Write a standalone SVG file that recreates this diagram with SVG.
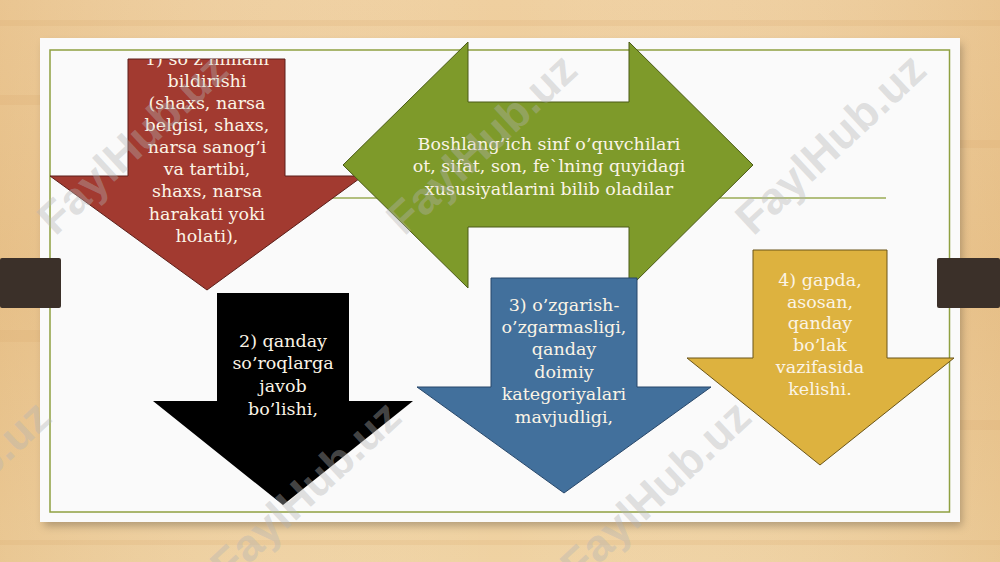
<svg xmlns="http://www.w3.org/2000/svg" width="1000" height="562" viewBox="0 0 1000 562">
  <defs>
    <linearGradient id="wood" x1="0" y1="0" x2="0" y2="1">
      <stop offset="0" stop-color="#efcf9f"/>
      <stop offset="0.5" stop-color="#ebc792"/>
      <stop offset="1" stop-color="#efd2a2"/>
    </linearGradient>
    <linearGradient id="woodx" x1="0" y1="0" x2="1" y2="0">
      <stop offset="0" stop-color="#d9a766" stop-opacity="0.25"/>
      <stop offset="0.5" stop-color="#ffffff" stop-opacity="0"/>
      <stop offset="1" stop-color="#d9a766" stop-opacity="0.25"/>
    </linearGradient>
    <filter id="shadow" x="-5%" y="-5%" width="110%" height="115%">
      <feGaussianBlur stdDeviation="4"/>
    </filter>
    <clipPath id="clipRed">
      <polygon points="128,59 285,59 285,176 363,176 207,290 50,176 128,176"/>
    </clipPath>
    <style>
      .lbl { font-family: "DejaVu Serif", "Liberation Serif", serif; font-size: 17.5px; fill: #fbf4e6; text-anchor: middle; }
      .wm { font-family: "Liberation Sans", Arial, sans-serif; font-weight: bold; font-size: 45px; fill: #b4b4b4; fill-opacity: 0.4; text-anchor: middle; }
      .tab { fill: #3b3029; }
    </style>
  </defs>

  <!-- background -->
  <rect x="0" y="0" width="1000" height="562" fill="url(#wood)"/>
  <rect x="0" y="0" width="1000" height="562" fill="url(#woodx)"/>
  <g fill="#d7a868" fill-opacity="0.18">
    <rect x="0" y="20" width="1000" height="6"/>
    <rect x="0" y="95" width="70" height="10"/>
    <rect x="960" y="140" width="40" height="8"/>
    <rect x="0" y="330" width="40" height="12"/>
    <rect x="960" y="420" width="40" height="10"/>
    <rect x="0" y="540" width="1000" height="5"/>
  </g>

  <!-- panel -->
  <rect x="44" y="44" width="918" height="482" fill="#000" fill-opacity="0.25" filter="url(#shadow)"/>
  <rect x="40" y="38" width="920" height="484" fill="#fafafa"/>
  <rect x="50" y="50" width="899.5" height="462" fill="none" stroke="#8fa040" stroke-width="1.5"/>
  <line x1="200" y1="198" x2="886" y2="198" stroke="#9aab55" stroke-width="1.5"/>

  <!-- side tabs -->
  <rect class="tab" x="0" y="258" width="61" height="50" rx="2"/>
  <rect class="tab" x="937" y="258" width="63" height="50" rx="2"/>

  <g id="connectors"/>

  <g id="node-red">
    <polygon points="128,59 285,59 285,176 363,176 207,290 50,176 128,176" fill="#a23a30" stroke="#5c1f1a" stroke-width="1"/>
    <g clip-path="url(#clipRed)">
      <text class="lbl" x="207" y="64.5">1) so’z nimani</text>
    </g>
    <text class="lbl" x="207" y="86.6">bildirishi</text>
    <text class="lbl" x="207" y="108.8">(shaxs, narsa</text>
    <text class="lbl" x="207" y="130.9">belgisi, shaxs,</text>
    <text class="lbl" x="207" y="153.1">narsa sanog’i</text>
    <text class="lbl" x="207" y="175.2">va tartibi,</text>
    <text class="lbl" x="207" y="197.4">shaxs, narsa</text>
    <text class="lbl" x="207" y="219.5">harakati yoki</text>
    <text class="lbl" x="207" y="241.7">holati),</text>
  </g>

  <g id="node-green">
    <polygon points="343,165 468,42 468,102 629,102 629,42 753,165 629,288 629,227 468,227 468,288" fill="#7e9a2a" stroke="#4a5a16" stroke-width="1"/>
    <text class="lbl" x="549" y="149.5">Boshlang’ich sinf o’quvchilari</text>
    <text class="lbl" x="549" y="172">ot, sifat, son, fe`lning quyidagi</text>
    <text class="lbl" x="549" y="194.5">xususiyatlarini bilib oladilar</text>
  </g>

  <g id="node-black">
    <polygon points="217,293 349,293 349,401 413,401 283,505 153,401 217,401" fill="#000000"/>
    <text class="lbl" x="283" y="346.5">2) qanday</text>
    <text class="lbl" x="283" y="369.3">so’roqlarga</text>
    <text class="lbl" x="283" y="392">javob</text>
    <text class="lbl" x="283" y="414.8">bo’lishi,</text>
  </g>

  <g id="node-blue">
    <polygon points="491,278 637,278 637,387 711,387 564,493 417,387 491,387" fill="#42709c" stroke="#27476a" stroke-width="1"/>
    <text class="lbl" x="564" y="310.6">3) o’zgarish-</text>
    <text class="lbl" x="564" y="333">o’zgarmasligi,</text>
    <text class="lbl" x="564" y="355.4">qanday</text>
    <text class="lbl" x="564" y="377.8">doimiy</text>
    <text class="lbl" x="564" y="400.2">kategoriyalari</text>
    <text class="lbl" x="564" y="422.6">mavjudligi,</text>
  </g>

  <g id="node-yellow">
    <polygon points="753,250 887,250 887,358 954,358 820,465 687,358 753,358" fill="#ddb23f" stroke="#6b5518" stroke-width="1"/>
    <text class="lbl" x="820" y="285.6">4) gapda,</text>
    <text class="lbl" x="820" y="307.5">asosan,</text>
    <text class="lbl" x="820" y="329.4">qanday</text>
    <text class="lbl" x="820" y="351.3">bo’lak</text>
    <text class="lbl" x="820" y="373.2">vazifasida</text>
    <text class="lbl" x="820" y="395.1">kelishi.</text>
  </g>

  <!-- watermarks -->
  <g id="watermarks">
    <text class="wm" transform="translate(143,155) rotate(-43)">FaylHub.uz</text>
    <text class="wm" transform="translate(492,155) rotate(-43)">FaylHub.uz</text>
    <text class="wm" transform="translate(841,155) rotate(-43)">FaylHub.uz</text>
    <text class="wm" transform="translate(-34,502) rotate(-43)">FaylHub.uz</text>
    <text class="wm" transform="translate(316,502) rotate(-43)">FaylHub.uz</text>
    <text class="wm" transform="translate(666,502) rotate(-43)">FaylHub.uz</text>
  </g>
</svg>
